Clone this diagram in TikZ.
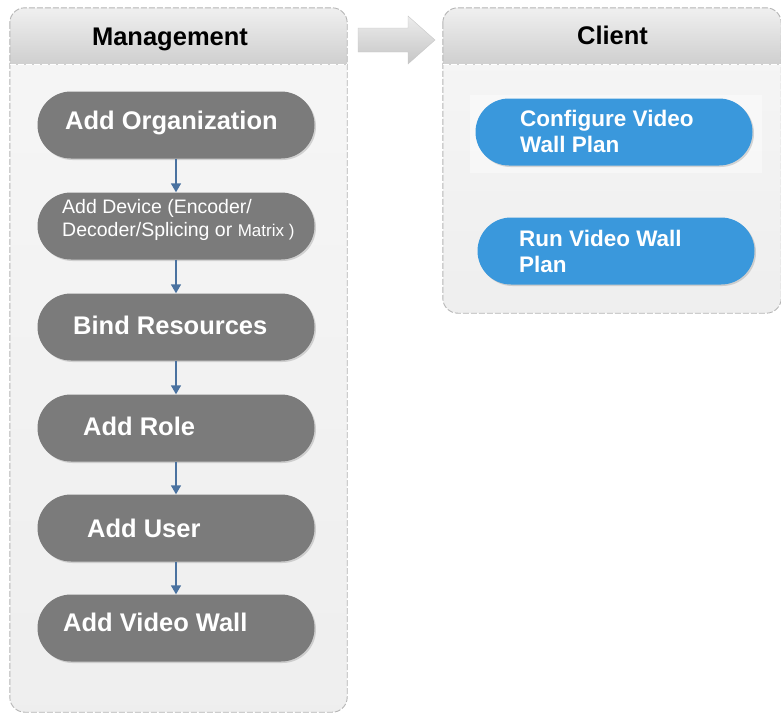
\documentclass[tikz,border=0pt]{standalone}
\usepackage{fontspec}
\setmainfont{Liberation Sans}
\usetikzlibrary{shapes.misc,shadows,arrows.meta}

\definecolor{pillgray}{HTML}{7B7B7B}
\definecolor{pillblue}{HTML}{3A98DC}
\definecolor{flowblue}{HTML}{4A72A0}
\definecolor{rimgray}{HTML}{B4B4B4}

\begin{document}
\begin{tikzpicture}[x=1pt,y=-1pt]
    \tikzset{
        panel/.style = {rounded corners=15pt, inner sep=0pt,
            top color=gray!7, bottom color=gray!13},
        header/.style = {rounded corners=15pt,
            top color=gray!12, bottom color=gray!38},
        rim/.style = {draw=rimgray, line width=0.9pt,
            dash pattern=on 6pt off 2pt, rounded corners=15pt},
        title/.style = {font=\bfseries\fontsize{25.5}{28}\selectfont,
            anchor=base, inner sep=0pt},
        pill/.style = {rounded rectangle, inner sep=0pt,
            minimum width=277pt, minimum height=67pt,
            drop shadow={opacity=0.3, shadow xshift=1.5pt, shadow yshift=-1.5pt}},
        graypill/.style = {pill, fill=pillgray},
        bluepill/.style = {pill, fill=pillblue},
        pilltext/.style = {anchor=base west, inner sep=0pt, text=white,
            align=left, font=\bfseries\fontsize{25.5}{28}\selectfont},
        flow/.style = {draw=flowblue, line width=1.5pt,
            -{Triangle[length=9pt, width=10pt]}}
    }
    \useasboundingbox (0,0) rectangle (781,715);

    % panels
    \node[panel, minimum width=337pt, minimum height=704pt] (mgmt) at (178.5,360) {};
    \node[panel, minimum width=338pt, minimum height=305pt] (client) at (612,160.5) {};
    \path[header] ([yshift=-57pt]mgmt.north west) -- (mgmt.north west)
        -- (mgmt.north east) -- ([yshift=-57pt]mgmt.north east);
    \path[header] ([yshift=-57pt]client.north west) -- (client.north west)
        -- (client.north east) -- ([yshift=-57pt]client.north east);
    \draw[rim] (mgmt.north west) rectangle (mgmt.south east);
    \draw[rim] (client.north west) rectangle (client.south east);
    \draw[rim, draw=white] ([yshift=-57pt]mgmt.north west) -- ([yshift=-57pt]mgmt.north east);
    \draw[rim, draw=white] ([yshift=-57pt]client.north west) -- ([yshift=-57pt]client.north east);

    \node[title] (mgmttitle) at (170,45) {Management};
    \node[title] (clienttitle) at (612.5,44) {Client};

    % block arrow between the panels
    \path[top color=gray!15, bottom color=gray!45, draw=gray!45, line width=0.4pt]
        (358,28) -- (408,28) -- (408,16) -- (435,40) -- (408,64) -- (408,52) -- (358,52) -- cycle;

    % management steps
    \node[graypill] (org)  at (176,125) {};
    \node[graypill] (dev)  at (176,226) {};
    \node[graypill] (bind) at (176,327) {};
    \node[graypill] (role) at (176,428) {};
    \node[graypill] (user) at (176,528) {};
    \node[graypill] (wall) at (176,628) {};

    \node[pilltext] (orgtext)  at (65,129) {Add Organization};
    \node[pilltext, font=\fontsize{19.5}{23}\selectfont] (devtext) at (62,236)
        {Add Device (Encoder/\\Decoder/Splicing or {\fontsize{17}{23}\selectfont Matrix )}};
    \node[pilltext] (bindtext) at (73,334) {Bind Resources};
    \node[pilltext] (roletext) at (83,435) {Add Role};
    \node[pilltext] (usertext) at (87,537) {Add User};
    \node[pilltext] (walltext) at (63,631) {Add Video Wall};

    \foreach \a/\b in {org/dev, dev/bind, bind/role, role/user, user/wall}
        \draw[flow] (\a.south) -- (\b.north);

    % client steps
    \fill[white, opacity=0.45] (470,95) rectangle (762,173);
    \node[bluepill] (config) at (614,132) {};
    \node[bluepill] (run)    at (616,251) {};
    \node[pilltext, font=\bfseries\fontsize{22.5}{25.5}\selectfont] (configtext) at (520,152)
        {Configure Video\\Wall Plan};
    \node[pilltext, font=\bfseries\fontsize{22.5}{25.5}\selectfont] (runtext) at (519,272)
        {Run Video Wall\\Plan};
\end{tikzpicture}
\end{document}
